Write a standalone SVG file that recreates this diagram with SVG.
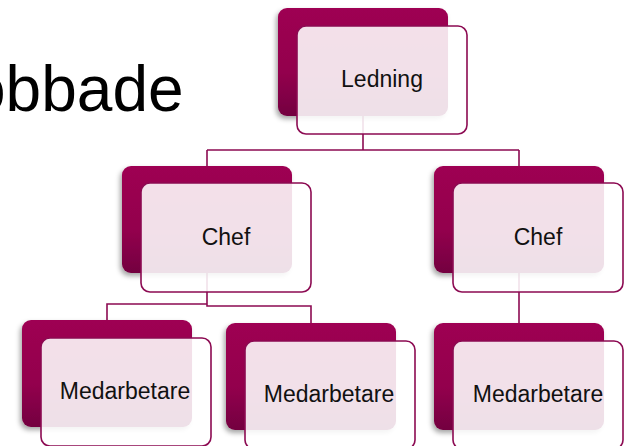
<svg xmlns="http://www.w3.org/2000/svg" width="628" height="446" viewBox="0 0 628 446">
<defs>
<linearGradient id="dk" x1="0" y1="0" x2="0" y2="1">
<stop offset="0" stop-color="#9E0052"/>
<stop offset="0.6" stop-color="#93004D"/>
<stop offset="1" stop-color="#730040"/>
</linearGradient>
<filter id="sh" x="-20%" y="-20%" width="140%" height="150%">
<feDropShadow dx="-2" dy="3" stdDeviation="2.5" flood-color="#000" flood-opacity="0.35"/>
</filter>
</defs>
<style>
.back{fill:url(#dk);filter:url(#sh)}
.front{fill:#fff;fill-opacity:0.88;stroke:#8C0A52;stroke-width:1.6}
.lbl{font-family:"Liberation Sans",Arial,sans-serif;font-size:23px;fill:#111;text-anchor:middle}
.con{fill:none;stroke:#8C0A52;stroke-width:1.6}
</style>
<rect width="628" height="446" fill="#fff"/>
<text x="-30" y="111" font-family="'Liberation Sans',Arial,sans-serif" font-size="64" fill="#000">obbade</text>
<g id="connectors">
<path class="con" d="M363 100 V150 M207 150 H519 M207 150 V170 M519 150 V170"/>
<path class="con" d="M207 260 V304 H107 V324 M207 304 V306 H311 V326"/>
<path class="con" d="M519 260 V326"/>
</g>
<g id="ledning">
<rect class="back" x="278" y="8" width="170" height="108" rx="9"/>
<rect class="front" x="297" y="26" width="170" height="108" rx="9"/>
<text class="lbl" x="382" y="87">Ledning</text>
</g>
<g id="chef1">
<rect class="back" x="122" y="166" width="170" height="107" rx="9"/>
<rect class="front" x="141" y="183" width="170" height="109" rx="9"/>
<text class="lbl" x="226" y="245">Chef</text>
</g>
<g id="chef2">
<rect class="back" x="434" y="166" width="170" height="107" rx="9"/>
<rect class="front" x="453" y="183" width="170" height="109" rx="9"/>
<text class="lbl" x="538" y="245">Chef</text>
</g>
<g id="med1">
<rect class="back" x="22" y="320" width="170" height="107" rx="9"/>
<rect class="front" x="41" y="338" width="170" height="108" rx="9"/>
<text class="lbl" x="125" y="399">Medarbetare</text>
</g>
<g id="med2">
<rect class="back" x="226" y="323" width="170" height="107" rx="9"/>
<rect class="front" x="245" y="341" width="170" height="108" rx="9"/>
<text class="lbl" x="329" y="402">Medarbetare</text>
</g>
<g id="med3">
<rect class="back" x="434" y="323" width="170" height="107" rx="9"/>
<rect class="front" x="453" y="341" width="170" height="108" rx="9"/>
<text class="lbl" x="538" y="402">Medarbetare</text>
</g>
</svg>
